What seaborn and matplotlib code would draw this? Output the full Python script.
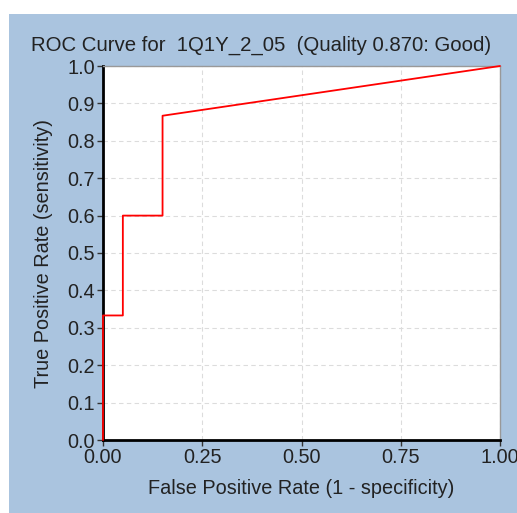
import matplotlib
matplotlib.use('Agg')
import matplotlib.pyplot as plt
import seaborn as sns
import pandas as pd
from matplotlib.patches import Rectangle

# ROC curve points
fpr = [0.0, 0.0, 0.05, 0.05, 0.15, 0.15, 1.0]
tpr = [0.0, 0.333, 0.333, 0.6, 0.6, 0.867, 1.0]
x_ticks = [0.0, 0.25, 0.5, 0.75, 1.0]
y_ticks = [0.0, 0.1, 0.2, 0.3, 0.4, 0.5, 0.6, 0.7, 0.8, 0.9, 1.0]
title = 'ROC Curve for  1Q1Y_2_05  (Quality 0.870: Good)'
x_label = 'False Positive Rate (1 - specificity)'
y_label = 'True Positive Rate (sensitivity)'

sns.set_style('white')
plt.rcParams['font.family'] = ['Liberation Sans', 'DejaVu Sans']
txt = '#222222'
fs = 14.3

W, H = 517, 513
fig = plt.figure(figsize=(W / 100, H / 100), dpi=100)
fig.patch.set_facecolor('white')
# light blue panel behind the chart
panel = Rectangle((9 / W, 0), 1 - 9 / W, 1 - 14 / H, transform=fig.transFigure,
                  facecolor='#aac4df', edgecolor='none', zorder=-10)
fig.add_artist(panel)

ax = fig.add_axes([103 / W, 1 - 440 / H, 397 / W, 374 / H])
ax.set_zorder(1)
ax.set_facecolor('white')

df = pd.DataFrame({'fpr': fpr, 'tpr': tpr})
sns.lineplot(data=df, x='fpr', y='tpr', sort=False, estimator=None,
             color='#ff0000', linewidth=1.3, ax=ax, zorder=3, clip_on=False)

ax.set_xlim(0, 1)
ax.set_ylim(0, 1)
ax.set_xticks(x_ticks)
ax.set_xticklabels(['%.2f' % v for v in x_ticks])
ax.set_yticks(y_ticks)
ax.set_yticklabels(['%.1f' % v for v in y_ticks])
ax.grid(True, linestyle=(0, (4, 3)), color='#dcdcdc', linewidth=0.8)

for side in ['top', 'right']:
    ax.spines[side].set_color('#999999')
    ax.spines[side].set_linewidth(1.0)
for side in ['left', 'bottom']:
    ax.spines[side].set_color('black')
    ax.spines[side].set_linewidth(2.0)

ax.tick_params(axis='both', which='both', direction='out', length=4, width=1,
               color='#333333', labelsize=fs, labelcolor=txt, pad=2,
               left=True, bottom=True)
ax.set_xlabel('')
ax.set_ylabel('')

fig.text(261 / W, 1 - 45 / H, title, ha='center', va='center', fontsize=14.7, color=txt)
fig.text(301 / W, 1 - 488 / H, x_label, ha='center', va='center', fontsize=fs, color=txt)
fig.text(44 / W, 1 - 253 / H, y_label, ha='center', va='center', rotation=90, fontsize=fs, color=txt)

fig.savefig('out.png', dpi=100)
